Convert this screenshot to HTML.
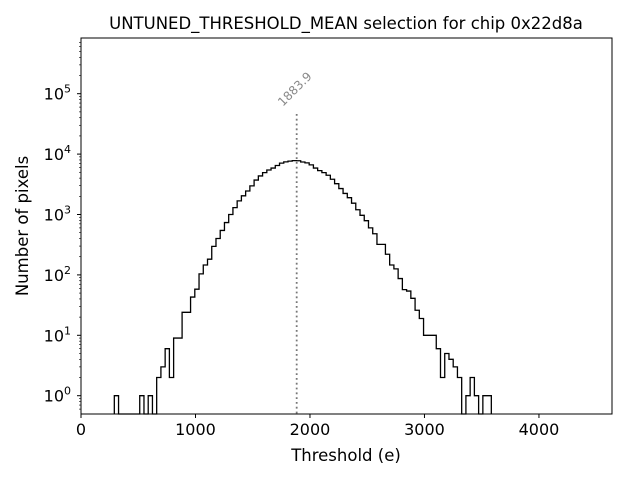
<!DOCTYPE html>
<html><head><meta charset="utf-8"><style>
html,body{margin:0;padding:0;background:#fff;}
svg{display:block;font-family:"DejaVu Sans","Liberation Sans",sans-serif;}
</style></head><body>
<svg id="chart" width="640" height="480" viewBox="0 0 640 480" xmlns="http://www.w3.org/2000/svg">
<rect width="640" height="480" fill="#fff"/>
<text x="346" y="29" font-size="16.5" text-anchor="middle">UNTUNED_THRESHOLD_MEAN selection for chip 0x22d8a</text>
<text x="346" y="461" font-size="16.5" text-anchor="middle">Threshold (e)</text>
<text x="0" y="0" font-size="16.5" text-anchor="middle" transform="translate(28,226) rotate(-90)">Number of pixels</text>
<g id="plot"></g>
</svg>
<script>
const binStart = 291;
const binWidth = 37;
const counts = [1,0,0,0,0,0,1,0,1,0,2,3,6,2,9,9,24,24,43,58,104,146,182,297,400,545,735,1000,1300,1680,2040,2450,2980,3720,4350,4940,5450,5870,6480,7080,7430,7650,7800,
7750,7400,7160,6630,5870,5330,4940,4460,3830,3240,2690,2230,1900,1540,1200,970,790,600,480,320,320,220,146,126,87,57,54,41,26,19,10,10,10,6,2,5,4,3,2,0,1,2,1,0,1,1];
const xTicks = [0,1000,2000,3000,4000];
const yTickExps = [0,1,2,3,4,5];
const meanValue = 1883.9;

const L=81,R=612,T=38,B=414;
const xMax=4638;
const yLo=Math.log10(0.53), yHi=5.86;
const sx=v=>L+(v/xMax)*(R-L);
const y0=395.7, dec=60.4;
const sy=v=>y0-Math.log10(v)*dec;
const NS="http://www.w3.org/2000/svg";
const g=document.getElementById('plot');
function mk(tag,attrs){const e=document.createElementNS(NS,tag);for(const k in attrs)e.setAttribute(k,attrs[k]);g.appendChild(e);return e;}

let d='';
const base=B;
for(let i=0;i<counts.length;i++){
  const x0=sx(binStart+i*binWidth), x1=sx(binStart+(i+1)*binWidth);
  const y=counts[i]>0?sy(counts[i]):base;
  if(i===0)d+=`M${x0},${base}`;
  d+=` L${x0},${y} L${x1},${y}`;
}
d+=` L${sx(binStart+counts.length*binWidth)},${base}`;
const hist=mk('path',{d:d,fill:'none',stroke:'#000','stroke-width':1.3});



const ml=mk('line',{x1:sx(meanValue),x2:sx(meanValue),y1:114,y2:B,stroke:'#777','stroke-width':1.8,'stroke-dasharray':'1.8,3'});


const mt=mk('text',{x:0,y:0,'font-size':12,fill:'#888','text-anchor':'middle',transform:`translate(${sx(meanValue)+1},${92}) rotate(-45)`});
mt.textContent=meanValue.toFixed(1);



const fr=mk('rect',{x:L,y:T,width:R-L,height:B-T,fill:'none',stroke:'#000','stroke-width':1});



xTicks.forEach(v=>{
  const t=mk('line',{x1:sx(v),x2:sx(v),y1:B,y2:B+4,stroke:'#000'});
  
  
  const lb=mk('text',{x:sx(v),y:B+21,'font-size':16,'text-anchor':'middle'});
  lb.textContent=v;
  
  
});
yTickExps.forEach(e=>{
  const y=y0-e*dec;
  const t=mk('line',{x1:L-4,x2:L,y1:y,y2:y,stroke:'#000'});
  
  
  const lb=mk('text',{x:L-10,y:y+6,'font-size':16,'text-anchor':'end'});
  lb.innerHTML='10<tspan dy="-7" font-size="11">'+e+'</tspan>';
  
  
});
for(let e=-1;e<=5;e++){for(let m=2;m<=9;m++){
  const lv=e+Math.log10(m);
  if(lv<yLo||lv>yHi)continue;
  const y=y0-lv*dec;
  const t=mk('line',{x1:L-2,x2:L,y1:y,y2:y,stroke:'#000','stroke-width':0.6});
  
  
}}
</script>
</body></html>
